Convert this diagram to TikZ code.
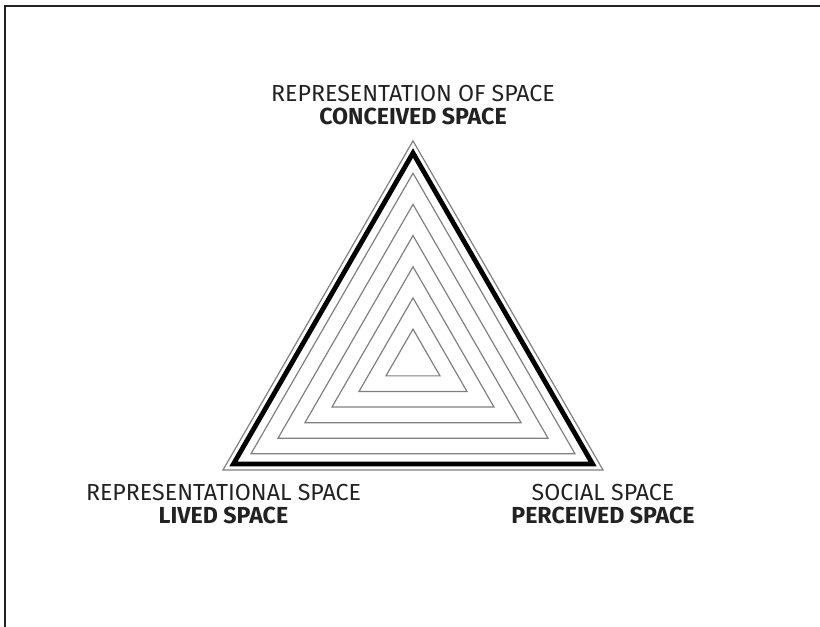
\documentclass[tikz,border=0pt]{standalone}
\usepackage{fontspec}
\setmainfont{Fira Sans}
\usetikzlibrary{calc}

\definecolor{inkgray}{HTML}{222222}
\definecolor{linegray}{HTML}{808080}

\tikzset{
    spacelabel/.style={align=center, text=inkgray, font=\fontsize{17.4}{17.4}\selectfont},
    thinline/.style={draw=linegray, line width=0.9pt},
}

\begin{document}
\begin{tikzpicture}[x=0.75pt, y=0.75pt]
            \useasboundingbox (0,0) rectangle (820,627);
            \def\cx{413}     % centre of the triangles
            \def\cy{266.7}
            \def\step{31.18} % radius step of the inner triangles
            % frame
            \draw[inkgray, line width=0.9pt] (5,0) -- (5,621) -- (820,621);
            % Draw the outer and the thick triangle
            \draw[thinline, shift={(\cx,\cy)}] (90:219.4) -- (210:219.4) -- (330:219.4) -- cycle;
            \draw[black, line width=3.6pt, shift={(\cx,\cy)}] (90:207.3) -- (210:207.3) -- (330:207.3) -- cycle;
            % Draw the inner triangles
            \foreach \k in {1, ..., 6} {
                \draw[thinline, shift={(\cx,\cy)}] (90:\k*\step) -- (210:\k*\step) -- (330:\k*\step) -- cycle;
            };
            % labels at the corners
            \node[spacelabel] (conceived) at (\cx, 522) {REPRESENTATION OF SPACE\\\textbf{CONCEIVED SPACE}};
            \node[spacelabel] (lived) at (223.5, 123) {REPRESENTATIONAL SPACE\\\textbf{LIVED SPACE}};
            \node[spacelabel] (perceived) at (603, 123) {SOCIAL SPACE\\\textbf{PERCEIVED SPACE}};
        \end{tikzpicture}
\end{document}
